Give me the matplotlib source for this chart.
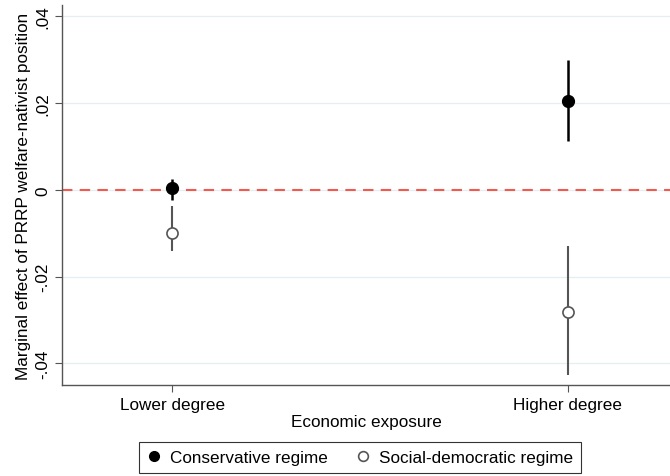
import matplotlib
matplotlib.use("Agg")
import matplotlib.pyplot as plt
import numpy as np

plt.rcParams['font.family'] = ['Liberation Sans', 'DejaVu Sans']

categories = ['Lower degree', 'Higher degree']
cons_est = [0.0005, 0.0205]
cons_lo = [-0.0023, 0.0112]
cons_hi = [0.0026, 0.0300]
soc_est = [-0.0100, -0.0281]
soc_lo = [-0.0142, -0.0428]
soc_hi = [-0.0037, -0.0130]
yticks = [-0.04, -0.02, 0, 0.02, 0.04]
ytick_labels = ['-.04', '-.02', '0', '.02', '.04']

x = np.arange(1, len(categories) + 1)

fig = plt.figure(figsize=(6.7, 4.77), dpi=100)
ax = fig.add_axes([0.093, 0.191, 0.907, 0.796])

for yt in yticks:
    ax.axhline(yt, color='#e6eef2', lw=0.9, zorder=0)
ax.axhline(0, color='#f25a50', lw=1.5, ls=(0, (5, 3.5)), zorder=1)

ce = np.array(cons_est)
se = np.array(soc_est)
ax.errorbar(x, ce, yerr=[ce - np.array(cons_lo), np.array(cons_hi) - ce],
            fmt='o', color='black', ms=8.5, elinewidth=1.8, capsize=0, zorder=3,
            label='Conservative regime')
ax.errorbar(x, se, yerr=[se - np.array(soc_lo), np.array(soc_hi) - se],
            fmt='o', color='#555555', mfc='white', mec='#555555', mew=1.2, ms=8,
            elinewidth=1.5, capsize=0, zorder=3, label='Social-democratic regime')

ax.set_xlim(0.722, 2.258)
ax.set_ylim(-0.045, 0.0426)
ax.set_xticks(x)
ax.set_xticklabels(categories, fontsize=12.3)
ax.set_yticks(yticks)
ax.set_yticklabels(ytick_labels, fontsize=12.3, rotation=90, va='center')
ax.set_xlabel('Economic exposure', fontsize=12.3, labelpad=2)
ax.set_ylabel('Marginal effect of PRRP welfare-nativist position', fontsize=12.3, labelpad=3)

for s in ['top', 'right']:
    ax.spines[s].set_visible(False)
for s in ['left', 'bottom']:
    ax.spines[s].set_color('#555555')
    ax.spines[s].set_linewidth(1.0)
ax.tick_params(color='#555555', length=5, width=0.8)

handles, labels = ax.get_legend_handles_labels()
handles = [h[0] for h in handles]
leg = fig.legend(handles, labels, loc='center', bbox_to_anchor=(0.537, 0.0385),
                 ncol=2, fontsize=12.3, frameon=True, fancybox=False,
                 edgecolor='black', handlelength=0.9, handletextpad=0.5,
                 columnspacing=1.6, borderpad=0.45, borderaxespad=0)
leg.get_frame().set_linewidth(0.8)
for h in leg.legend_handles:
    h.set_markersize(7)

fig.savefig('out.png', dpi=100)
